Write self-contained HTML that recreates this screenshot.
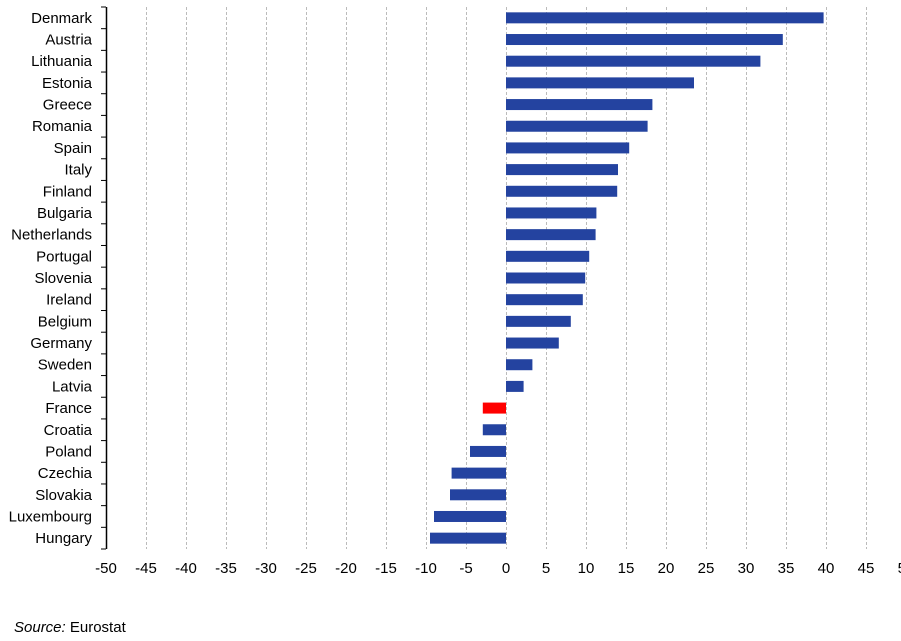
<!DOCTYPE html><html><head><style>body{margin:0;background:#fff}svg{display:block}text{font-family:"Liberation Sans",Arial,sans-serif;font-size:15px;fill:#000}</style></head><body>
<svg width="901" height="641" xmlns="http://www.w3.org/2000/svg" id="s"></svg>
<script>
(function(){
const d=[["Denmark",39.7],["Austria",34.6],["Lithuania",31.8],["Estonia",23.5],["Greece",18.3],["Romania",17.7],["Spain",15.4],["Italy",14],["Finland",13.9],["Bulgaria",11.3],["Netherlands",11.2],["Portugal",10.4],["Slovenia",9.9],["Ireland",9.6],["Belgium",8.1],["Germany",6.6],["Sweden",3.3],["Latvia",2.2],["France",-2.9],["Croatia",-2.9],["Poland",-4.5],["Czechia",-6.8],["Slovakia",-7],["Luxembourg",-9],["Hungary",-9.5]];
var h='';var T=7,B=549,rh=(B-T)/25;function X(v){return 506+v*8;}
for(var v=-45;v<=45;v+=5)h+='<line x1="'+(X(v)+.5)+'" y1="'+T+'" x2="'+(X(v)+.5)+'" y2="'+B+'" stroke="#bbb" stroke-dasharray="3,2"/>';
for(var v=-50;v<=50;v+=5)h+='<text x="'+X(v)+'" y="573" text-anchor="middle">'+v+'</text>';
d.forEach(function(r,i){var c=T+rh*(i+.5);var x0=Math.min(X(0),X(r[1])),w=Math.abs(r[1]*8);
h+='<rect x="'+x0+'" y="'+(c-5.5)+'" width="'+w+'" height="11" fill="'+(r[0]=='France'?'#ff0000':'#2443a0')+'"/>';
h+='<text x="92" y="'+(c+5)+'" text-anchor="end">'+r[0]+'</text>';});
for(var i=0;i<=25;i++){var y=T+rh*i;h+='<line x1="101" y1="'+y+'" x2="106" y2="'+y+'" stroke="#000"/>';}
h+='<line x1="106.5" y1="'+T+'" x2="106.5" y2="'+B+'" stroke="#000" stroke-width="1.5"/>';
h+='<text x="14" y="632"><tspan font-style="italic">Source:</tspan> Eurostat</text>';
document.getElementById('s').innerHTML=h;
})();
</script></body></html>
